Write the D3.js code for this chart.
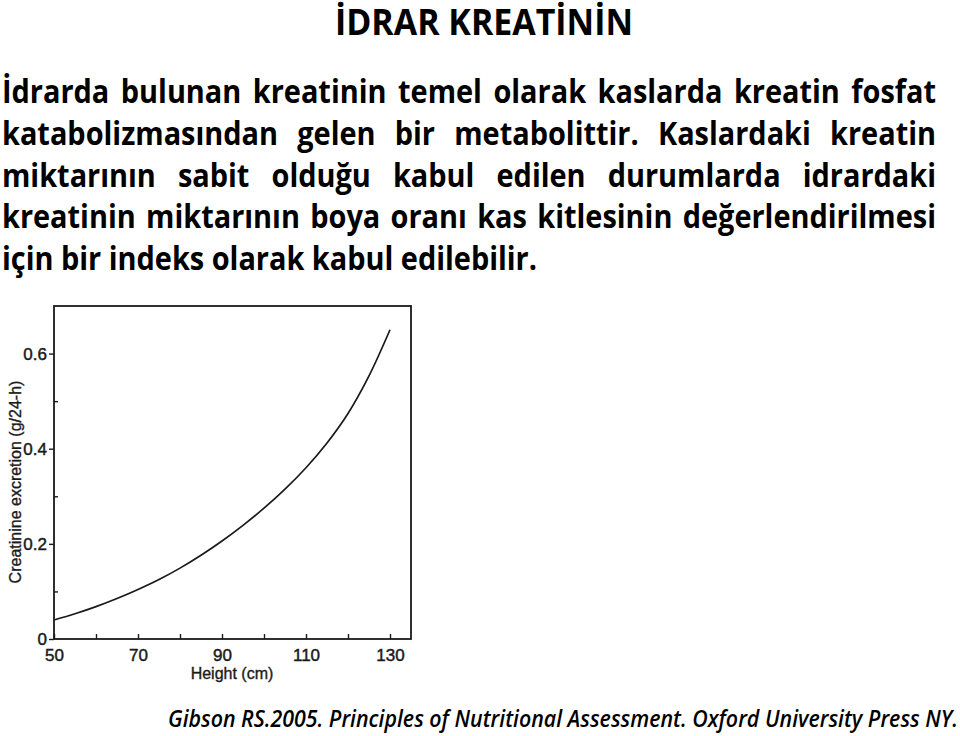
<!DOCTYPE html>
<html lang="tr">
<head>
<meta charset="UTF-8">
<title>İdrar kreatinin</title>
<script src="https://cdnjs.cloudflare.com/ajax/libs/d3/7.9.0/d3.min.js"></script>
<style>
  html, body { margin: 0; padding: 0; background: #fff; }
  svg { display: block; }
</style>
</head>
<body>
<svg id="slide" width="960" height="736"></svg>
<script>
// --- data ---
const heightCm   = [50, 55, 60, 65, 70, 75, 80, 85, 90, 95, 100, 105, 110, 115, 120, 125, 130];
const excretion  = [0.040, 0.053, 0.068, 0.085, 0.104, 0.125, 0.149, 0.176, 0.206, 0.239, 0.275, 0.315, 0.360, 0.412, 0.474, 0.553, 0.650];
const xTickLabels = [50, 70, 90, 110, 130];
const xMinorTicks = [60, 80, 100, 120];
const yTickLabels = [0, 0.2, 0.4, 0.6];
const yMinorTicks = [0.1, 0.3, 0.5];

const title = "İDRAR KREATİNİN";
const bodyLines = [
  "İdrarda bulunan kreatinin temel olarak kaslarda kreatin fosfat",
  "katabolizmasından gelen bir metabolittir. Kaslardaki kreatin",
  "miktarının sabit olduğu kabul edilen durumlarda idrardaki",
  "kreatinin miktarının boya oranı kas kitlesinin değerlendirilmesi",
  "için bir indeks olarak kabul edilebilir."
];
const source = "Gibson RS.2005. Principles of Nutritional Assessment. Oxford University Press NY.";

const svg = d3.select('#slide');
const textFont = '"Open Sans", "Noto Sans", sans-serif';
const chartFont = '"Liberation Sans", Arial, sans-serif';

// title
svg.append('text')
  .attr('x', 335).attr('y', 35)
  .attr('font-family', textFont).attr('font-weight', 700).attr('font-size', 35)
  .attr('textLength', 298).attr('lengthAdjust', 'spacingAndGlyphs')
  .text(title);

// body paragraph, justified, narrow like the original font
const bodySize = 33;
const left = 2, right = 936, lastRight = 537;
const baselines = [103, 144.8, 186.6, 228.4, 270.2];
const body = svg.append('g')
  .attr('font-family', textFont).attr('font-weight', 700).attr('font-size', bodySize);

function measure(str) {
  const t = body.append('text').text(str);
  const w = t.node().getComputedTextLength();
  t.remove();
  return w;
}
const spaceW = measure('a a') - measure('aa');
const lastWords = bodyLines[bodyLines.length - 1].split(' ');
const lastNatural = d3.sum(lastWords, measure) + spaceW * (lastWords.length - 1);
const squeeze = (lastRight - left) / lastNatural;

bodyLines.forEach((line, i) => {
  const words = line.split(' ');
  const widths = words.map(w => measure(w) * squeeze);
  const isLast = i === bodyLines.length - 1;
  const gap = isLast ? spaceW * squeeze
    : (right - left - d3.sum(widths)) / (words.length - 1);
  let x = left;
  words.forEach((w, j) => {
    body.append('text')
      .attr('x', x).attr('y', baselines[i])
      .attr('textLength', widths[j]).attr('lengthAdjust', 'spacingAndGlyphs')
      .text(w);
    x += widths[j] + gap;
  });
});

// source line
svg.append('text')
  .attr('x', 168).attr('y', 727)
  .attr('font-family', textFont).attr('font-style', 'italic').attr('font-weight', 600)
  .attr('font-size', 24)
  .attr('textLength', 790).attr('lengthAdjust', 'spacingAndGlyphs')
  .text(source);

// --- chart ---
const x = d3.scaleLinear().domain([50, 135]).range([54, 411]);
const y = d3.scaleLinear().domain([0, 0.7]).range([639, 306]);
const ink = '#1a1a1a';

const chart = svg.append('g').attr('font-family', chartFont);

// bottom axis: inward ticks, labels every 20
chart.append('g')
  .attr('transform', `translate(0,${y(0)})`)
  .call(d3.axisBottom(x).tickValues(xTickLabels).tickSizeInner(-5).tickSizeOuter(0).tickPadding(10));
chart.append('g')
  .attr('transform', `translate(0,${y(0)})`)
  .call(d3.axisBottom(x).tickValues(xMinorTicks).tickSizeInner(-5).tickSizeOuter(0).tickFormat(''));

// left axis: outward major ticks, inward minor ticks
chart.append('g')
  .attr('transform', `translate(${x(50)},0)`)
  .call(d3.axisLeft(y).tickValues(yTickLabels).tickSizeInner(5).tickSizeOuter(0).tickPadding(2)
    .tickFormat(d => d === 0 ? '0' : d3.format('.1f')(d)));
chart.append('g')
  .attr('transform', `translate(${x(50)},0)`)
  .call(d3.axisLeft(y).tickValues(yMinorTicks).tickSizeInner(-4).tickSizeOuter(0).tickFormat(''));

chart.selectAll('.domain').remove();
chart.selectAll('.tick line').attr('stroke', ink).attr('stroke-width', 1.4);
chart.selectAll('.tick text')
  .attr('fill', ink).attr('font-size', 17)
  .attr('stroke', ink).attr('stroke-width', 0.45);

// frame
chart.append('rect')
  .attr('x', x(50)).attr('y', y(0.7))
  .attr('width', x(135) - x(50)).attr('height', y(0) - y(0.7))
  .attr('fill', 'none').attr('stroke', ink).attr('stroke-width', 1.8);

// curve
const line = d3.line()
  .x((d, i) => x(heightCm[i]))
  .y(d => y(d))
  .curve(d3.curveCatmullRom);
chart.append('path')
  .datum(excretion)
  .attr('d', line)
  .attr('fill', 'none').attr('stroke', ink).attr('stroke-width', 1.7);

// axis titles
chart.append('text')
  .attr('x', 232).attr('y', 679)
  .attr('text-anchor', 'middle').attr('font-size', 16).attr('fill', ink)
  .attr('stroke', ink).attr('stroke-width', 0.35)
  .text('Height (cm)');
chart.append('text')
  .attr('transform', 'translate(21,482) rotate(-90)')
  .attr('text-anchor', 'middle').attr('font-size', 16).attr('fill', ink)
  .attr('stroke', ink).attr('stroke-width', 0.35)
  .text('Creatinine excretion (g/24-h)');
</script>
</body>
</html>
